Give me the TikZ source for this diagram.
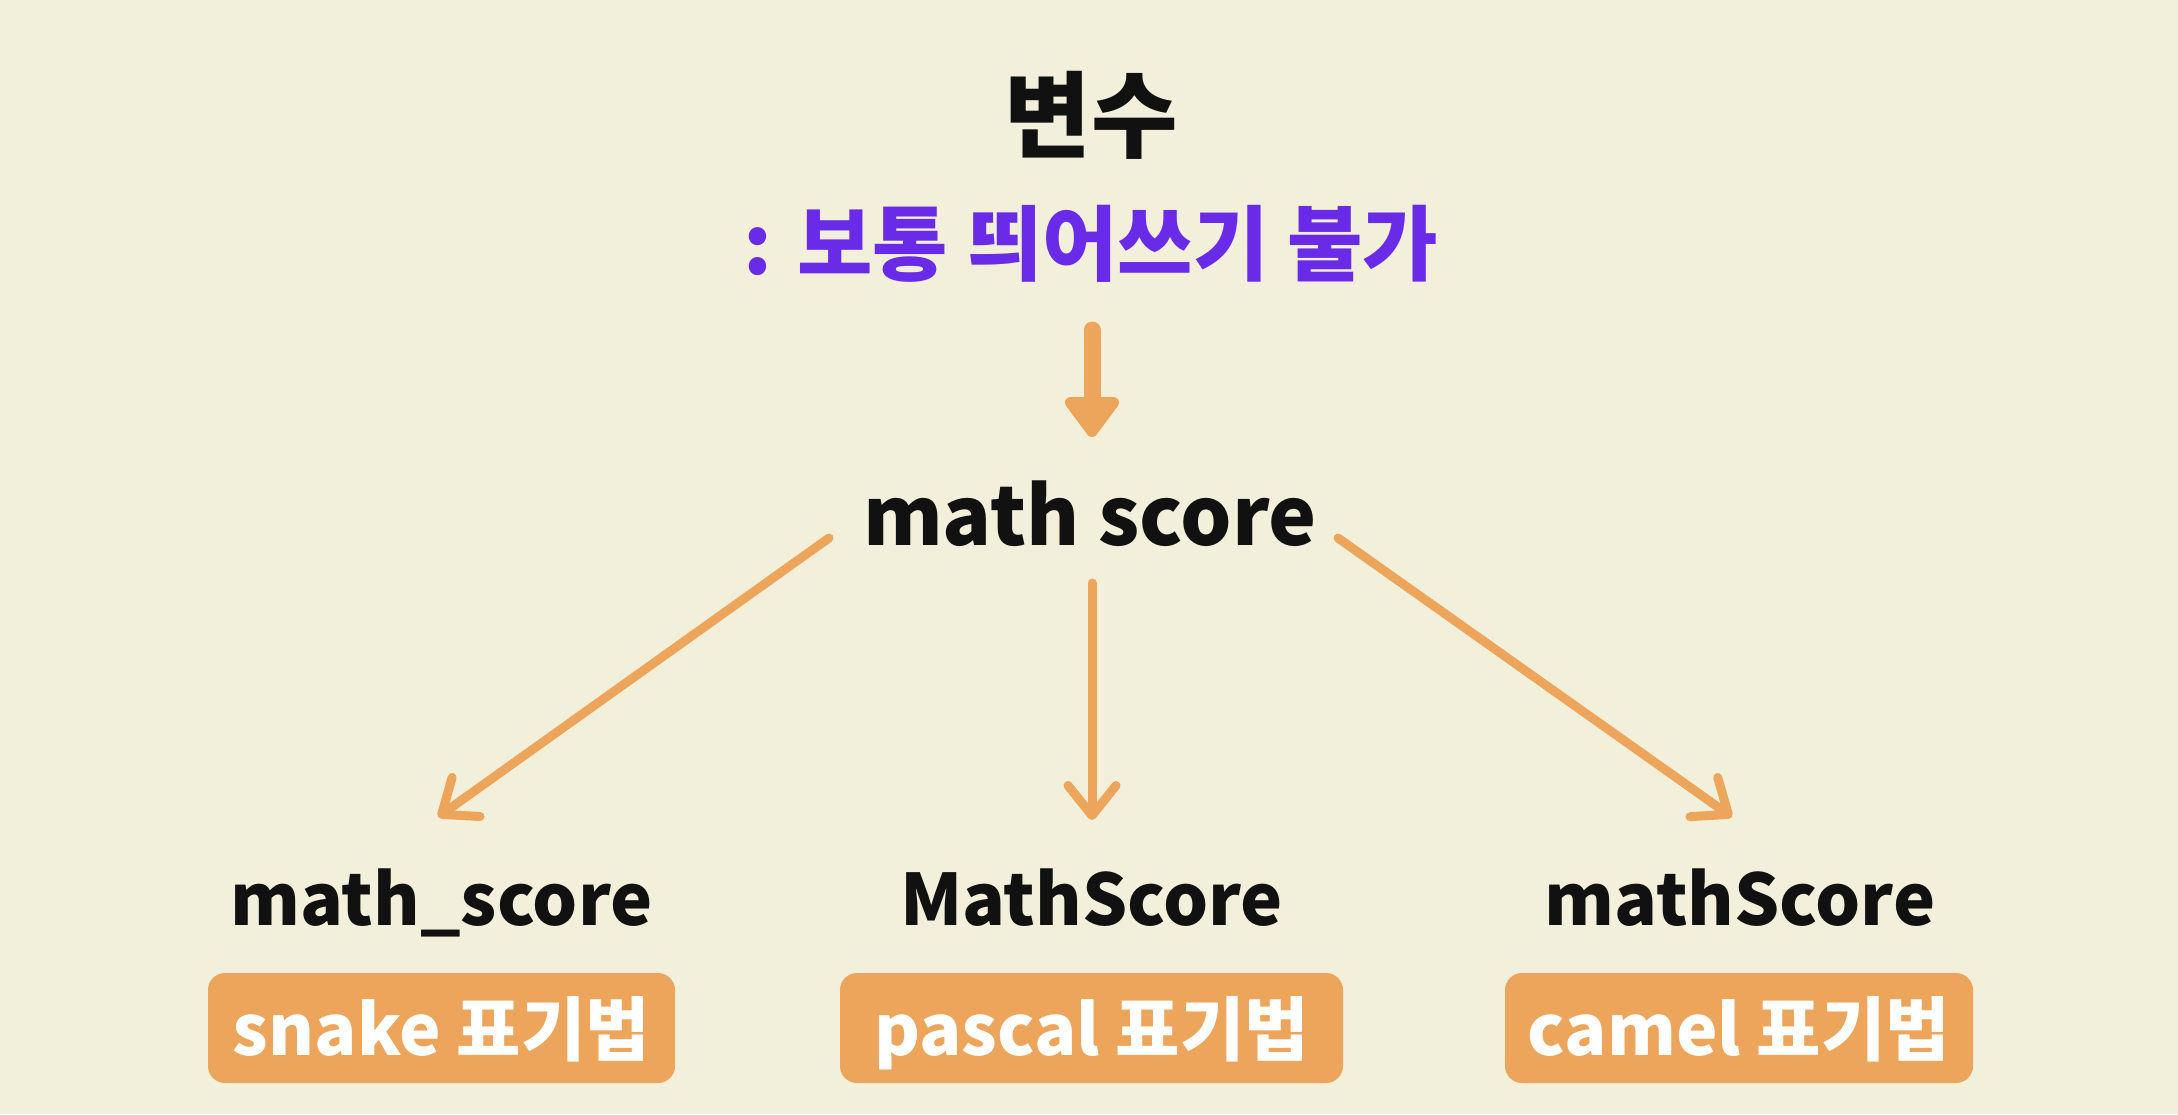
\documentclass[tikz,border=0pt]{standalone}
\usepackage{fontspec}
\usetikzlibrary{arrows.meta}
\newfontfamily\krb{Noto Sans CJK KR Black}
\definecolor{bgc}{HTML}{F2F0DA}
\definecolor{orangec}{HTML}{EDA45B}
\definecolor{purplec}{HTML}{6A2BE8}
\definecolor{inkc}{HTML}{111111}
\tikzset{
  title/.style={font=\krb\fontsize{47}{50}\selectfont, text=inkc, inner sep=0pt},
  subtitle/.style={font=\krb\fontsize{41}{46}\selectfont, text=purplec, inner sep=0pt},
  mainword/.style={font=\krb\fontsize{40.5}{48}\selectfont, text=inkc, inner sep=0pt, anchor=base},
  varword/.style={font=\krb\fontsize{35.5}{42}\selectfont, text=inkc, inner sep=0pt, anchor=base},
  tagbox/.style={fill=orangec, rounded corners=8.5pt, inner sep=0pt, minimum height=55pt,
    text=white, font=\krb\fontsize{35}{42}\selectfont, text height=27pt, text depth=0pt},
  bigarrow/.style={draw=orangec, line width=8.5pt, line cap=round,
    -{Triangle[width=31pt,length=22pt,round]}},
  thinarrow/.style={draw=orangec, line width=4.5pt, line cap=round,
    -{Straight Barb[width=24pt,length=15pt,round]}}
}
\begin{document}
\begin{tikzpicture}[x=0.5pt,y=-0.5pt]
\fill[bgc] (0,0) rectangle (2178,1114);
\useasboundingbox (0,0) rectangle (2178,1114);
\node[title] (var) at (1091,115) {변수};
\node[subtitle] (rule) at (1091,244) {: 보통 띄어쓰기 불가};
\node[mainword] (ms) at (1090,545) {math score};
\node[varword] (snk) at (441.5,925) {math\_score};
\node[varword] (psc) at (1091.5,925) {MathScore};
\node[varword] (cml) at (1740,925) {mathScore};
\node[tagbox, minimum width=233.5pt] (tsnk) at (441.5,1028) {snake 표기법};
\node[tagbox, minimum width=251.5pt] (tpsc) at (1091.5,1028) {pascal 표기법};
\node[tagbox, minimum width=234pt] (tcml) at (1739,1028) {camel 표기법};
\coordinate (a0) at (1092,330);
\coordinate (a1) at (1092,437);
\coordinate (l0) at (829,538);
\coordinate (l1) at (438,817);
\coordinate (c0) at (1092,583);
\coordinate (c1) at (1092,820);
\coordinate (r0) at (1338,538);
\coordinate (r1) at (1732,817);
\draw[bigarrow] (a0) -- (a1);
\draw[thinarrow] (l0) -- (l1);
\draw[thinarrow] (c0) -- (c1);
\draw[thinarrow] (r0) -- (r1);
\end{tikzpicture}
\end{document}
